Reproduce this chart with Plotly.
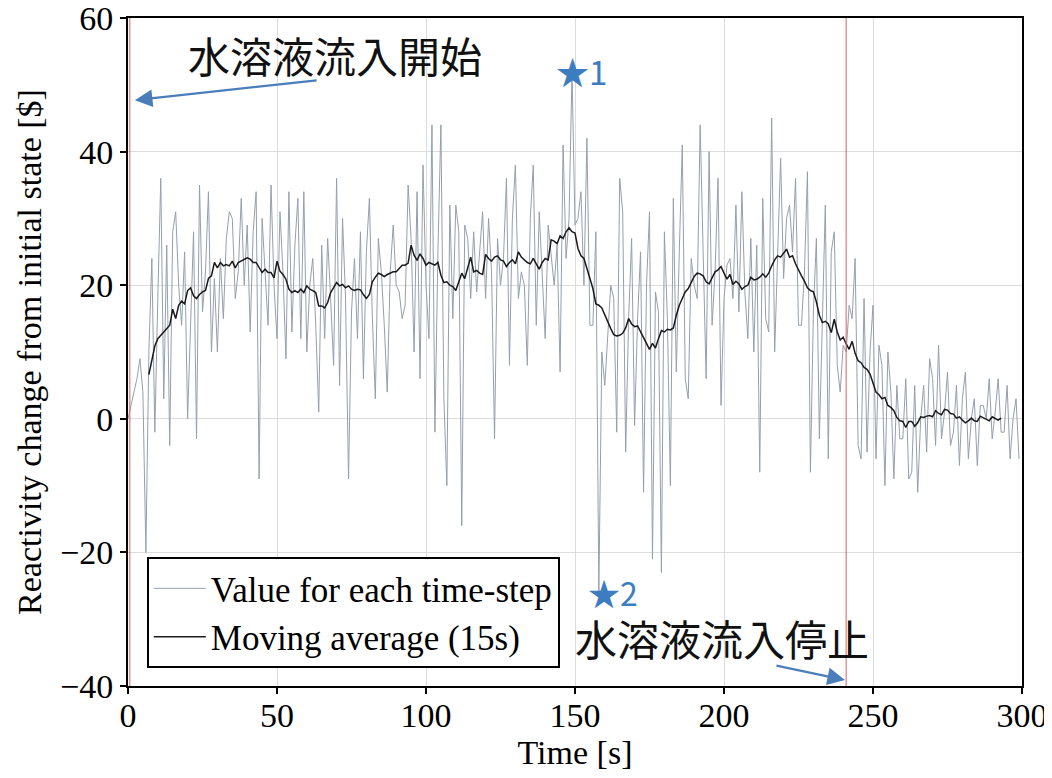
import plotly.graph_objects as go

# ---------------- data ----------------
raw_time = list(range(0, 300))
raw_values = [
    0, 2, 4, 6, 9, 4, -20, 10, 24, -2,
    18, 36, 3, 26, -4, 28, 31, 20, 14, 25,
    0, 15, 28, -3, 35, 16, 22, 34, 10, 21,
    10, 24, 15, 27, 31, 30, 18, 22, 33, 20,
    29, 13, 28, 34, -9, 30, 22, 14, 35, 20,
    12, 31, 22, 9, 34, 13, 26, 33, 12, 34,
    10, 20, 24, 14, 1, 26, 12, 27, 18, 8,
    36, 5, 30, 18, -9, 16, 24, 12, 28, 6,
    25, 33, 15, 3, 27, 22, 14, 4, 22, 29,
    20, 19, 15, 17, 35, 27, 10, 34, 6, 38,
    20, 12, 44, -2, 25, 44, 3, -10, 32, 15,
    32, 28, -16, 29, 27, 18, 28, 19, 25, 31,
    18, 30, 22, -3, 27, 20, 24, 36, 8, 30,
    38, 18, 22, 20, 8, 30, 38, 14, 31, 22,
    12, 29, 25, 20, 26, 7, 41, 24, 30, 52,
    29, 30, 34, 20, 42, 14, 14, 28, -26, 10,
    5, 12, 20, 18, -2, 36, 31, -5, 15, 27,
    -1, 15, 25, -11, 20, 31, -21, 19, 16, -23,
    28, 15, -10, 33, 7, 25, 41, 6, 3, 24,
    20, 18, 44, 25, 6, 40, 14, 22, 36, 2,
    18, 23, 24, 18, 32, 16, 34, 19, 12, 27,
    10, 26, -8, 33, 15, 13, 45, 10, 26, 39,
    21, 30, 32, 25, 36, 14, 14, 22, 37, -8,
    16, 27, -3, 16, 32, -6, 25, 28, 8, 4,
    11, 10, 17, 15, 24, -4, -6, 18, -5, 10,
    17, -6, 11, 8, -10, 10, 4, -9, 5, -3,
    -3, 6, -9, -8, 5, -11, 0, 5, -5, 9,
    6, -4, 11, -3, 1, 7, -4, -2, 5, -7,
    3, 7, -6, 0, 3, -7, 2, 2, 0, 6,
    -3, 1, 6, -2, -2, 5, -6, 0, 3, -6,
]

ma_start = 7
ma_values = [
    6.6, 9, 10.9, 12, 12.5, 13.1, 13.5, 14, 16.4, 15,            # 7-16
    17, 17.6, 17.2, 19.2, 19.6, 18.4, 18, 18.6, 19, 19.2,        # 17-26
    21, 21.4, 23.4, 22.6, 23.4, 22.9, 23.1, 22.9, 23.6, 22.6,    # 27-36
    23.4, 23.6, 23.9, 24.1, 23.9, 23.4, 23.4, 22.6, 21.9, 22.4,  # 37-46
    21.9, 21.9, 21.1, 23.6, 22.1, 21.6, 20.9, 19.4, 18.9, 19.2,  # 47-56
    18.9, 19.4, 18.9, 19.9, 19.4, 19.2, 18.9, 16.9, 16.9, 16.6,  # 57-66
    17.4, 18.9, 19.6, 20.4, 19.9, 20.1, 19.6, 19.9, 19.4, 19.2,  # 67-76
    19.4, 19.3, 18.6, 18, 18.6, 20.5, 21.2, 21.8, 21.6, 21.3,    # 77-86
    21.6, 21.8, 22, 22, 22.5, 23, 23, 23.3, 26, 24.5,            # 87-96
    23.7, 24.7, 24, 23, 23.4, 23.2, 23, 23.4, 21.5, 20.4,        # 97-106
    20.5, 20, 19.8, 19.2, 20.5, 21.8, 21, 22.5, 24.2, 22,        # 107-116
    22.2, 21.8, 21.6, 24.6, 24, 23.6, 24.2, 24.4, 23.8, 23.6,    # 117-126
    22.8, 23.4, 23.8, 23.2, 25, 24.2, 23.8, 23.4, 23.2, 24,      # 127-136
    23.2, 22.4, 23.4, 24, 23.8, 26.8, 26.6, 26.2, 27.4, 27,      # 137-146
    28, 28.6, 28, 27.8, 25.5, 24.4, 24, 22.5, 21, 19.5,          # 147-156
    17.2, 17, 16.6, 15.5, 14.5, 13.5, 12.6, 12.4, 12.5, 12.8,    # 157-166
    13.6, 15, 14.2, 13.8, 13.9, 13, 12.2, 11.4, 10.4, 11.3,      # 167-176
    10.6, 12, 13.2, 13, 13.4, 13.3, 13.6, 15.5, 17, 18,          # 177-186
    19, 19.5, 20.5, 21.3, 21.8, 21.7, 21.4, 20.5, 20.2, 21.2,    # 187-196
    22, 22.3, 22.8, 21.8, 20.9, 21.6, 20.1, 20.6, 20.2, 19.4,    # 197-206
    19.8, 20, 21.2, 20.8, 20.9, 21.2, 21.7, 21.2, 21.8, 22.9,    # 207-216
    23.8, 24.4, 24.2, 24.8, 25.4, 24.2, 24.4, 23.2, 22.2, 21.4,  # 217-226
    20.6, 19.6, 19.2, 19, 17.5, 15.5, 14.4, 14.6, 14.2, 12.9,    # 227-236
    14.9, 13, 11.8, 12.2, 11.2, 10.4, 11.6, 9.8, 8.7, 8.4,       # 237-246
    7.7, 7.4, 6.7, 5.4, 4, 3.6, 3, 3.2, 2, 1.7,                  # 247-256
    1.2, 0.2, -0.3, -0.4, -1.3, -0.4, -0.4, -1.1, -0.6, 0.3,     # 257-266
    0.2, 0.4, 0.5, 0.3, 1.2, 0.8, 0.6, 1.4, 1.3, 0.8,            # 267-276
    0.7, 0.1, 0.3, -0.2, -0.6, -0.3, 0.1, -0.3, -0.4, 0.4,       # 277-286
    0.2, 0, -0.3, 0.3, 0.1, -0.2, 0.1,                           # 287-293
]
ma_time = [ma_start + i for i in range(len(ma_values))]

event_times = [0.6, 241]
x_ticks = [0, 50, 100, 150, 200, 250, 300]
y_ticks = [-40, -20, 0, 20, 40, 60]

SERIF = "Liberation Serif, Times New Roman, serif"
CJK = "Noto Sans CJK JP, sans-serif"
BLUE = "#3b7dbf"

fig = go.Figure()
fig.add_trace(go.Scatter(
    x=raw_time, y=raw_values, mode="lines",
    line=dict(color="#949fae", width=1),
    name="Value for each time-step",
))
fig.add_trace(go.Scatter(
    x=ma_time, y=ma_values, mode="lines",
    line=dict(color="#1a1a1a", width=1.5),
    name="Moving average (15s)",
))

for t in event_times:
    fig.add_shape(type="line", xref="x", yref="paper", x0=t, x1=t, y0=0, y1=1,
                  line=dict(color="rgba(225,90,90,0.75)", width=1.3), layer="above")

annotations = [
    dict(x=69.5, y=54.6, text="水溶液流入開始", showarrow=False,
         font=dict(family=CJK, size=42, color="#111111")),
    dict(x=199.3, y=-32.8, text="水溶液流入停止", showarrow=False,
         font=dict(family=CJK, size=42, color="#111111")),
    dict(x=2.3, y=47.7, ax=63.8, ay=50.7, axref="x", ayref="y", xref="x", yref="y",
         text="", showarrow=True, arrowhead=2, arrowsize=1.6, arrowwidth=2.2,
         arrowcolor="#4a7ebb"),
    dict(x=240.6, y=-39.1, ax=217.1, ay=-36.9, axref="x", ayref="y", xref="x", yref="y",
         text="", showarrow=True, arrowhead=2, arrowsize=1.6, arrowwidth=2.2,
         arrowcolor="#4a7ebb"),
    dict(x=152.2, y=52.0, text="★1", showarrow=False,
         font=dict(family=CJK, size=33, color=BLUE)),
    dict(x=162.8, y=-26.0, text="★2", showarrow=False,
         font=dict(family=CJK, size=32, color=BLUE)),
]
fig.update_layout(annotations=annotations)

axis_common = dict(
    showline=True, linecolor="black", linewidth=2, mirror=True,
    ticks="outside", ticklen=6, tickwidth=1.5, tickcolor="black",
    showgrid=True, gridcolor="#dcdcdc", gridwidth=1, zeroline=False,
    tickfont=dict(family=SERIF, size=34, color="black"),
    automargin=False, ticklabeloverflow="allow",
)
fig.update_xaxes(range=[0, 300], tickvals=x_ticks, ticklabelstandoff=-8,
                 title=dict(text="Time [s]", font=dict(family=SERIF, size=34, color="black"), standoff=2),
                 **axis_common)
fig.update_yaxes(range=[-40, 60], tickvals=y_ticks,
                 title=dict(text="Reactivity change from initial state [$]",
                            font=dict(family=SERIF, size=34, color="black"), standoff=8),
                 **axis_common)

# page body has an 8px default margin, so the figure is sized to fit the window
fig.update_layout(
    width=1044, height=770,
    margin=dict(l=120, r=30, t=10, b=92),
    paper_bgcolor="white", plot_bgcolor="white",
    showlegend=True,
    legend=dict(x=0.021, y=0.193, xanchor="left", yanchor="top",
                bgcolor="white", bordercolor="black", borderwidth=2,
                font=dict(family=SERIF, size=35, color="black"),
                tracegroupgap=2, itemwidth=52),
)

fig.write_html("out.html")
